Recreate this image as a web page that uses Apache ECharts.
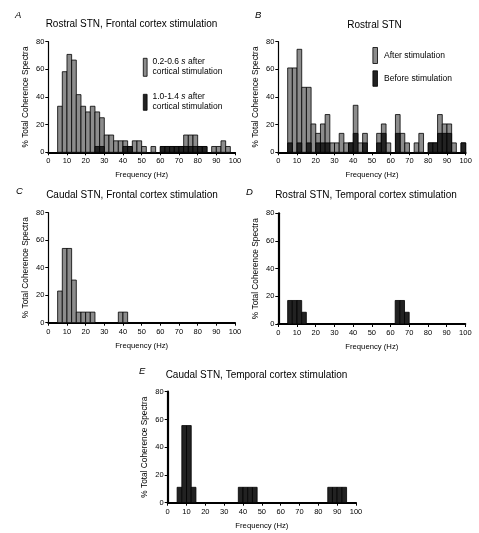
<!DOCTYPE html>
<html><head><meta charset="utf-8">
<script src="https://cdn.jsdelivr.net/npm/echarts@6/dist/echarts.min.js"></script>
<style>html,body{margin:0;padding:0;background:#fff}#c{width:479px;height:533px}</style>
</head><body><div id="c"></div>
<script>
// Histogram bins: 2.5 Hz wide, first bin starts at 5 Hz (38 bins up to 100 Hz)
const BIN_START = 5, BIN_WIDTH = 2.5;

// Panel A: Rostral STN, frontal cortex stimulation
const panelA_early = [33.3,58.3,70.8,66.7,41.7,33.3,29.2,33.3,29.2,25,12.5,12.5,8.3,8.3,8.3,4.2,8.3,8.3,4.2,0,4.2,0,4.2,4.2,4.2,4.2,4.2,12.5,12.5,12.5,4.2,4.2,0,4.2,4.2,8.3,4.2,0];
const panelA_late  = [0,0,0,0,0,0,0,0,4.2,4.2,0,0,0,0,4.2,4.2,0,0,0,0,0,0,4.2,4.2,4.2,4.2,4.2,4.2,4.2,4.2,4.2,4.2,0,0,0,0,0,0];
// Panel B: Rostral STN, after / before stimulation
const panelB_after  = [61,61,74.5,47,47,20.5,13.7,20.5,27.3,6.8,6.8,13.7,6.8,6.8,34,6.8,13.7,0,0,13.7,20.5,6.8,0,27.3,13.7,6.8,0,6.8,13.7,0,6.8,6.8,27.3,20.5,20.5,6.8,0,6.8];
const panelB_before = [6.8,0,6.8,0,6.8,0,6.8,6.8,6.8,0,0,0,0,6.8,13.7,0,6.8,0,0,6.8,13.7,0,0,13.7,0,0,0,0,0,0,6.8,6.8,13.7,13.7,13.7,0,0,6.8];
// Panel C: Caudal STN, frontal cortex stimulation
const panelC = [23,54,54,31,7.7,7.7,7.7,7.7,0,0,0,0,0,7.7,7.7,0,0,0,0,0,0,0,0,0,0,0,0,0,0,0,0,0,0,0,0,0,0,0];
// Panel D: Rostral STN, temporal cortex stimulation
const panelD = [17,17,17,8.5,0,0,0,0,0,0,0,0,0,0,0,0,0,0,0,0,0,0,0,17,17,8.5,0,0,0,0,0,0,0,0,0,0,0,0];
// Panel E: Caudal STN, temporal cortex stimulation
const panelE = [11.1,55.6,55.6,11.1,0,0,0,0,0,0,0,0,0,11.1,11.1,11.1,11.1,0,0,0,0,0,0,0,0,0,0,0,0,0,0,0,11.1,11.1,11.1,11.1,0,0];

const FREQ_MIN = 0, FREQ_MAX = 100, FREQ_STEP = 10;
const PCT_MIN = 0, PCT_MAX = 80, PCT_STEP = 20;
const X_NAME = 'Frequency (Hz)';
const Y_NAME = '% Total Coherence Spectra';

const FONT = '"Liberation Sans", Arial, Helvetica, sans-serif';
const GRAY = '#8c8c8c', DARK = '#222222';

const grids = [
  {left: 48.3, top: 41.7, width: 186.7, height: 110.6},
  {left: 278.3, top: 41.7, width: 187.4, height: 110.6},
  {left: 48.3, top: 212.7, width: 186.7, height: 110},
  {left: 278.3, top: 213.3, width: 187, height: 110.7},
  {left: 167.7, top: 391.7, width: 188.3, height: 111}
];
const yLineW = [1.2, 1.2, 1.2, 2.2, 2.2];

function xAx(gi) {
  return {gridIndex: gi, type: 'value', min: FREQ_MIN, max: FREQ_MAX, interval: FREQ_STEP,
    name: X_NAME, nameLocation: 'middle', nameGap: 19,
    nameTextStyle: {fontSize: 7.7, color: '#000', fontFamily: FONT},
    axisLine: {show: true, onZero: false, lineStyle: {color: '#000', width: 2}},
    axisTick: {show: true, length: 3, lineStyle: {color: '#000', width: 1}},
    axisLabel: {fontSize: 7.5, color: '#000', margin: 5, fontFamily: FONT},
    splitLine: {show: false}};
}
function yAx(gi) {
  return {gridIndex: gi, type: 'value', min: PCT_MIN, max: PCT_MAX, interval: PCT_STEP,
    name: Y_NAME, nameLocation: 'middle', nameGap: 19, nameRotate: 90,
    nameTextStyle: {fontSize: 8.3, color: '#000', fontFamily: FONT},
    axisLine: {show: true, lineStyle: {color: '#000', width: yLineW[gi]}},
    axisTick: {show: true, length: 3, lineStyle: {color: '#000', width: 1}},
    axisLabel: {fontSize: 7.5, color: '#000', margin: 4, fontFamily: FONT},
    splitLine: {show: false}};
}
function bars(values, gi, color, z, name) {
  return {type: 'custom', name: name, xAxisIndex: gi, yAxisIndex: gi, z: z, silent: true,
    data: values.map((v, i) => [BIN_START + i * BIN_WIDTH, BIN_START + (i + 1) * BIN_WIDTH, v]).filter(d => d[2] > 0),
    encode: {x: [0, 1], y: 2},
    renderItem: function (params, api) {
      const a = api.coord([api.value(0), api.value(2)]);
      const b = api.coord([api.value(1), 0]);
      return {type: 'rect', shape: {x: a[0], y: a[1], width: b[0] - a[0], height: b[1] - a[1]},
        style: {fill: color, stroke: '#000', lineWidth: 0.8}};
    }};
}
function txt(x, y, text, size, align, extra) {
  return Object.assign({type: 'text', x: x, y: y, silent: true,
    style: {text: text, fontSize: size, fontFamily: FONT, fill: '#000', align: align || 'left', verticalAlign: 'middle'}}, extra || {});
}
function letter(x, y, t) {
  return {type: 'text', x: x, y: y, silent: true,
    style: {text: t, fontSize: 9.5, fontStyle: 'italic', fontFamily: FONT, fill: '#000', align: 'left', verticalAlign: 'middle'}};
}
function box(x, y, w, h, color) {
  return {type: 'rect', silent: true, shape: {x: x, y: y, width: w, height: h}, style: {fill: color, stroke: '#000', lineWidth: 0.8}};
}
function richTxt(x, y, parts) {
  return {type: 'text', x: x, y: y, silent: true,
    style: {text: parts, fontSize: 8.5, fontFamily: FONT, fill: '#000', verticalAlign: 'middle',
      rich: {n: {fontSize: 8.5, fontFamily: FONT, fill: '#000'}, i: {fontSize: 8.5, fontStyle: 'italic', fontFamily: FONT, fill: '#000'}}}};
}

const chart = echarts.init(document.getElementById('c'), null, {renderer: 'canvas'});
chart.setOption({
  animation: false,
  backgroundColor: '#fff',
  grid: grids,
  xAxis: [0, 1, 2, 3, 4].map(xAx),
  yAxis: [0, 1, 2, 3, 4].map(yAx),
  series: [
    bars(panelA_early, 0, GRAY, 2, 'A early'),
    bars(panelA_late, 0, DARK, 3, 'A late'),
    bars(panelB_after, 1, GRAY, 2, 'B after'),
    bars(panelB_before, 1, DARK, 3, 'B before'),
    bars(panelC, 2, GRAY, 2, 'C'),
    bars(panelD, 3, DARK, 2, 'D'),
    bars(panelE, 4, DARK, 2, 'E')
  ],
  graphic: [
    letter(15, 15, 'A'), letter(255, 15, 'B'), letter(16, 191.5, 'C'), letter(246, 192, 'D'), letter(139, 371.5, 'E'),
    txt(131.5, 24.5, 'Rostral STN, Frontal cortex stimulation', 10, 'center'),
    txt(374.5, 25, 'Rostral STN', 10, 'center'),
    txt(132, 195, 'Caudal STN, Frontal cortex stimulation', 10, 'center'),
    txt(366, 195, 'Rostral STN, Temporal cortex stimulation', 10, 'center'),
    txt(256.5, 375, 'Caudal STN, Temporal cortex stimulation', 10, 'center'),
    // legend A
    box(143.3, 58.3, 3.8, 18, GRAY),
    richTxt(152.5, 61.5, '{n|0.2-0.6 }{i|s}{n| after}'),
    txt(152.5, 71.8, 'cortical stimulation', 8.5),
    box(143.3, 94.3, 3.8, 16, DARK),
    richTxt(152.5, 97, '{n|1.0-1.4 }{i|s}{n| after}'),
    txt(152.5, 107, 'cortical stimulation', 8.5),
    // legend B
    box(372.9, 47.5, 4.6, 16, GRAY),
    txt(384, 56, 'After stimulation', 8.5),
    box(372.9, 70.8, 4.6, 15.5, DARK),
    txt(384, 79, 'Before stimulation', 8.5)
  ]
});
</script></body></html>
